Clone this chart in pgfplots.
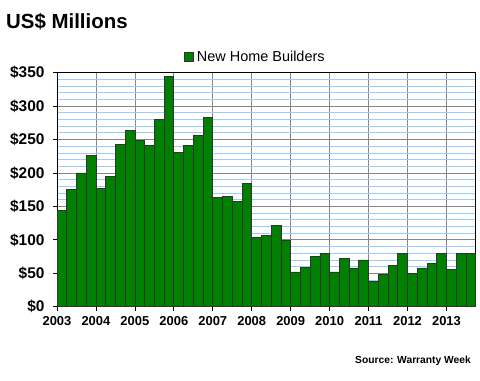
\documentclass[border=0pt]{standalone}
\usepackage{fontspec}
\setmainfont{Liberation Sans}
\usepackage{pgfplots}
\pgfplotsset{compat=1.18}
\definecolor{barg}{RGB}{0,128,0}
\definecolor{minorblue}{RGB}{153,204,255}
\definecolor{majgray}{RGB}{134,134,134}
\definecolor{edge}{RGB}{51,51,51}
\begin{document}
\begin{tikzpicture}[x=1bp,y=1bp]
\path[use as bounding box] (0,0) rectangle (480,380);
\begin{axis}[
  at={(57bp,73.3bp)}, anchor=south west,
  width=418.7bp, height=234bp, scale only axis,
  xmin=0, xmax=43, ymin=0, ymax=350,
  ybar, bar width=1,
  xtick={0,4,8,12,16,20,24,28,32,36,40},
  xticklabels={2003,2004,2005,2006,2007,2008,2009,2010,2011,2012,2013},
  ytick={0,50,100,150,200,250,300,350},
  yticklabels={\$0,\$50,\$100,\$150,\$200,\$250,\$300,\$350},
  minor y tick num=4,
  xmajorgrids, ymajorgrids, yminorgrids,
  major grid style={majgray, line width=0.8bp},
  minor grid style={minorblue, line width=0.8bp},
  tick align=outside, tick pos=left,
  major tick length=4bp, minor tick length=0pt,
  tick style={black, line width=0.8bp},
  axis line style={black, line width=0.8bp},
  xticklabel style={font=\fontsize{13}{15}\selectfont\bfseries, yshift=-2bp},
  yticklabel style={font=\fontsize{15.5}{17}\selectfont\bfseries, xshift=-5bp},
  legend style={at={(0.475,1.067)}, anchor=center, draw=none, fill=none,
    font=\fontsize{14.5}{16}\selectfont, inner sep=0pt,
    nodes={inner xsep=3bp}},
  legend image code/.code={\draw[#1] (0bp,-4.5bp) rectangle (9bp,4.5bp);},
]
\addplot[fill=barg, draw=edge, line width=0.8bp] coordinates {
(0.5,144) (1.5,176) (2.5,200) (3.5,226)
(4.5,177) (5.5,195) (6.5,243) (7.5,264)
(8.5,249) (9.5,241) (10.5,280) (11.5,345)
(12.5,231) (13.5,241) (14.5,256) (15.5,283)
(16.5,163) (17.5,165) (18.5,158) (19.5,185)
(20.5,104) (21.5,107) (22.5,121) (23.5,99)
(24.5,52) (25.5,59) (26.5,75) (27.5,79)
(28.5,52) (29.5,72) (30.5,58) (31.5,70)
(32.5,38) (33.5,48) (34.5,62) (35.5,79)
(36.5,50) (37.5,58) (38.5,65) (39.5,80)
(40.5,56) (41.5,80) (42.5,79)
};
\addlegendentry{New Home Builders}
\end{axis}
\node[anchor=base west, font=\fontsize{20.5}{24}\selectfont\bfseries, inner sep=0pt] at (6,352) {US\$ Millions};
\node[anchor=base east, font=\fontsize{10.3}{12}\selectfont\bfseries, inner sep=0pt] at (471,16.7) {Source: Warranty Week};
\end{tikzpicture}
\end{document}
